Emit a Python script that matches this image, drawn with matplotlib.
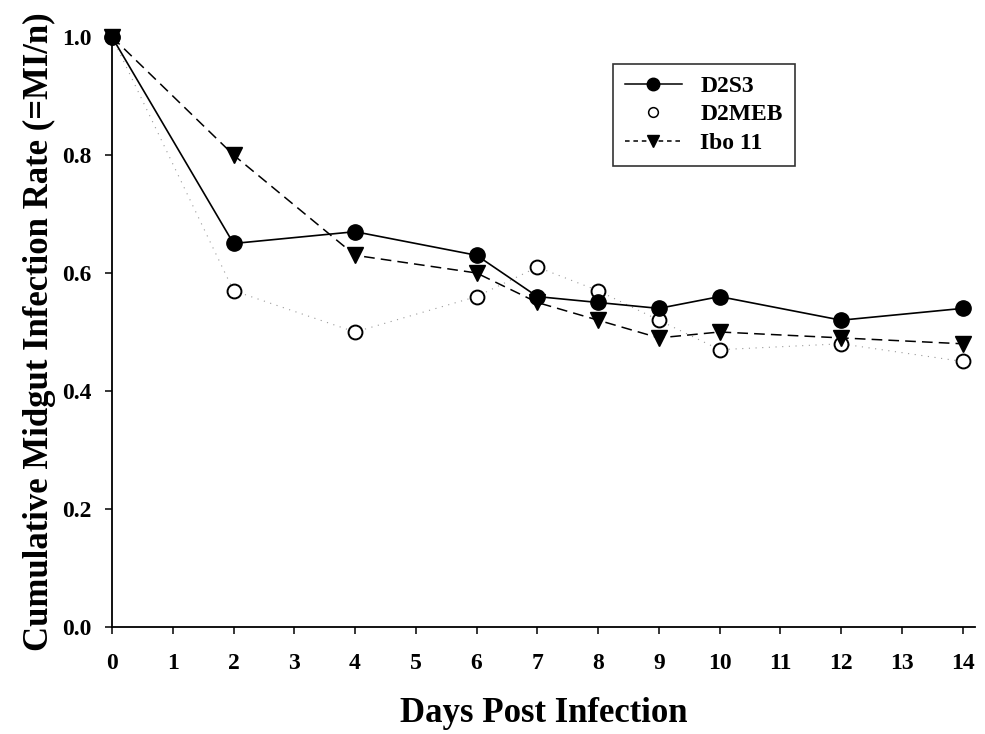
import matplotlib
matplotlib.use("Agg")
from matplotlib import pyplot as plt
from matplotlib.lines import Line2D

plt.rcParams['font.family'] = ['Liberation Serif', 'DejaVu Serif']
plt.rcParams['font.weight'] = 'bold'

# days post infection and cumulative midgut infection rate per strain
days = [0, 2, 4, 6, 7, 8, 9, 10, 12, 14]
d2s3 = [1.0, 0.65, 0.67, 0.63, 0.56, 0.55, 0.54, 0.56, 0.52, 0.54]
d2meb = [1.0, 0.57, 0.50, 0.56, 0.61, 0.57, 0.52, 0.47, 0.48, 0.45]
ibo11 = [1.0, 0.80, 0.63, 0.60, 0.55, 0.52, 0.49, 0.50, 0.49, 0.48]

xticks = list(range(0, 15))
yticks = [0.0, 0.2, 0.4, 0.6, 0.8, 1.0]

fig = plt.figure(figsize=(9.85, 7.34), dpi=100)
ax = fig.add_axes([0.1137, 0.1458, 0.876, 0.8038])

# D2MEB: faint, sparse dotted trace under the markers
ax.plot(days, d2meb, color='0.6', lw=0.8, dashes=(1, 5), zorder=1)
ax.plot(days, d2meb, 'o', ms=10, mfc='white', mec='black', mew=1.4,
        zorder=3, clip_on=False)
ax.plot(days, ibo11, '--', color='black', lw=1.1, dashes=(7, 4),
        marker='v', ms=11, mfc='black', mec='black', zorder=4, clip_on=False)
ax.plot(days, d2s3, '-', color='black', lw=1.2,
        marker='o', ms=11, mfc='black', mec='black', zorder=5, clip_on=False)

handles = [
    Line2D([], [], color='black', lw=1.1, marker='o', ms=9),
    Line2D([], [], ls='none', marker='o', ms=7, mfc='white', mec='black', mew=1.1),
    Line2D([], [], color='black', lw=1.1, ls='--', dashes=(3, 2.5), marker='v', ms=9),
]
leg = ax.legend(handles, ['D2S3', 'D2MEB', 'Ibo 11'],
                loc='upper left', bbox_to_anchor=(0.567, 0.975),
                frameon=True, fancybox=False, edgecolor='black',
                fontsize=17, handlelength=2.4, borderpad=0.5,
                labelspacing=0.3, handletextpad=0.8)
leg.get_frame().set_linewidth(1.2)

ax.set_xlim(0, 14.2)
ax.set_ylim(0, 1.0)
ax.set_xticks(xticks)
ax.set_yticks(yticks)
ax.set_yticklabels(['%.1f' % v for v in yticks])
ax.tick_params(axis='both', direction='out', length=5, width=1.1,
               labelsize=17, pad=10)
ax.tick_params(axis='x', pad=14)
for lbl in ax.get_xticklabels() + ax.get_yticklabels():
    lbl.set_fontweight('bold')

ax.spines['top'].set_visible(False)
ax.spines['right'].set_visible(False)
ax.spines['left'].set_linewidth(1.3)
ax.spines['bottom'].set_linewidth(1.3)

ax.set_xlabel('Days Post Infection', fontsize=25, fontweight='bold', labelpad=16)
ax.set_ylabel('Cumulative Midgut Infection Rate (=MI/n)', fontsize=25,
              fontweight='bold', labelpad=4)

fig.savefig('out.png', dpi=100)
